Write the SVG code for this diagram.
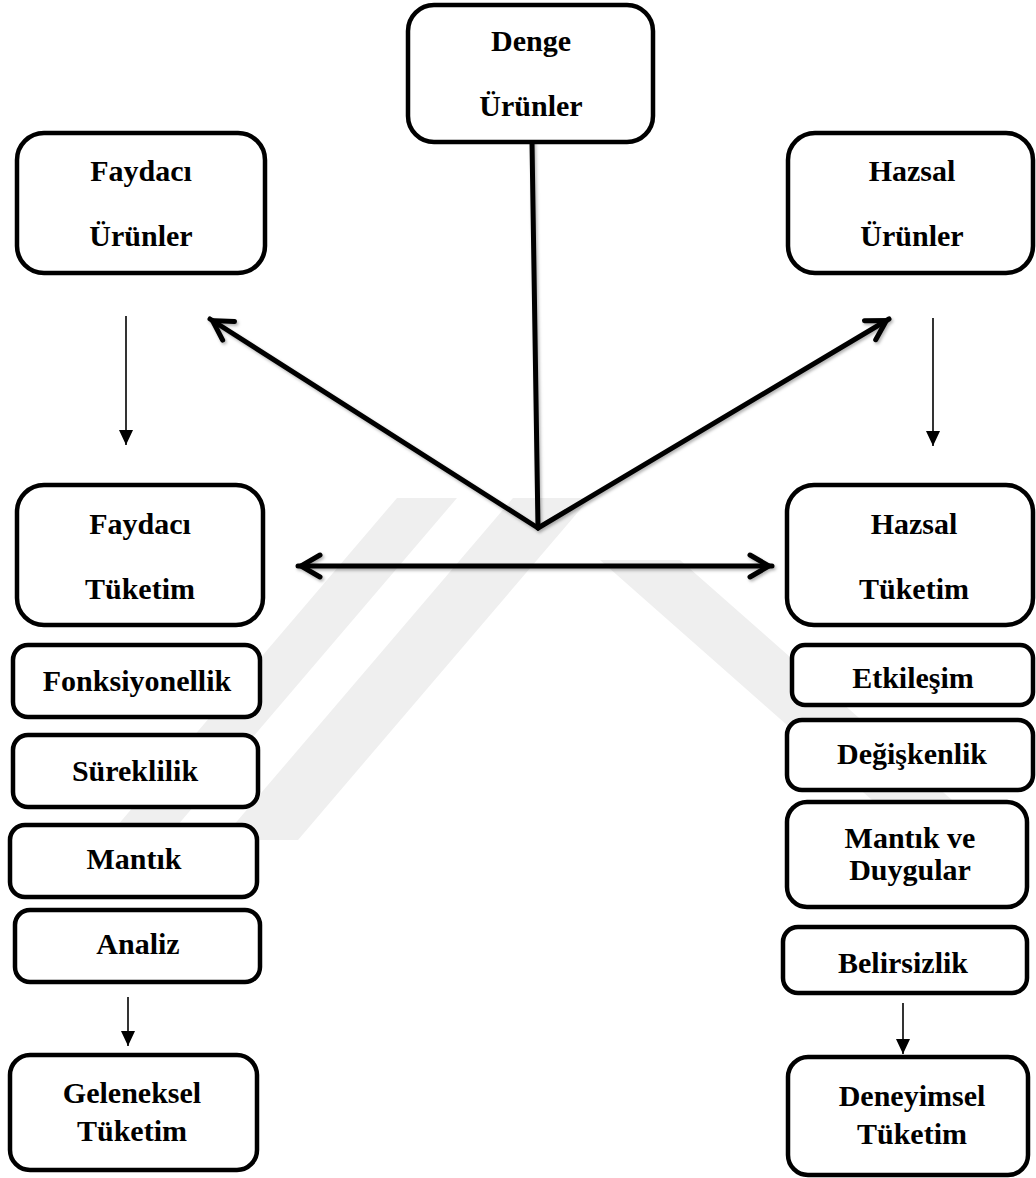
<svg xmlns="http://www.w3.org/2000/svg" width="1036" height="1178" viewBox="0 0 1036 1178">
<defs>
<style>
.box{fill:#fff;stroke:#000;stroke-width:4.5}
.t{font-family:"Liberation Serif","Times New Roman",serif;font-weight:bold;font-size:30px;fill:#000;text-anchor:middle}
.thick{fill:none;stroke:#000;stroke-width:5;stroke-linecap:round}
.thin{fill:none;stroke:#000;stroke-width:1.6}
.wm{fill:#efefef}
</style>
<marker id="open" viewBox="-26 -16 32 32" refX="3" refY="0" markerWidth="32" markerHeight="32" markerUnits="userSpaceOnUse" orient="auto-start-reverse">
<path d="M-19,-11 L0,0 L-19,11" fill="none" stroke="#000" stroke-width="5" stroke-linecap="round" stroke-linejoin="miter"/>
</marker>
<marker id="tri" viewBox="0 0 16 16" refX="15" refY="8" markerWidth="16" markerHeight="16" markerUnits="userSpaceOnUse" orient="auto">
<path d="M0,1 L15,8 L0,15 Z" fill="#000"/>
</marker>
<filter id="sh" x="-10%" y="-10%" width="120%" height="120%">
<feDropShadow dx="1.5" dy="2" stdDeviation="1.5" flood-color="#000" flood-opacity="0.3"/>
</filter>
</defs>
<rect width="1036" height="1178" fill="#fff"/>
<g id="watermark">
<polygon class="wm" points="397,498 457,498 165,840 105,840"/>
<polygon class="wm" points="513,498 590,498 298,840 221,840"/>
<polygon class="wm" points="600,560 680,560 1020,860 940,860"/>
</g>
<g id="connectors">
<line class="thin" x1="126" y1="316" x2="126" y2="445" marker-end="url(#tri)"/>
<line class="thin" x1="933" y1="318" x2="933" y2="446" marker-end="url(#tri)"/>
<line class="thin" x1="128" y1="997" x2="128" y2="1046" marker-end="url(#tri)"/>
<line class="thin" x1="903" y1="1003" x2="903" y2="1054" marker-end="url(#tri)"/>
<g filter="url(#sh)">
<line class="thick" x1="532" y1="142" x2="538" y2="528"/>
<line class="thick" x1="538" y1="528" x2="210" y2="319" marker-end="url(#open)"/>
<line class="thick" x1="538" y1="528" x2="889" y2="319" marker-end="url(#open)"/>
<line class="thick" x1="298" y1="566" x2="772" y2="566" marker-start="url(#open)" marker-end="url(#open)"/>
</g>
</g>
<g id="denge-urunler"><rect class="box" x="408" y="5" width="245" height="137" rx="26"/><text class="t" x="531" y="51">Denge</text><text class="t" x="531" y="116">Ürünler</text></g>
<g id="faydaci-urunler"><rect class="box" x="17" y="133" width="248" height="140" rx="27"/><text class="t" x="141" y="181">Faydacı</text><text class="t" x="141" y="246">Ürünler</text></g>
<g id="hazsal-urunler"><rect class="box" x="788" y="133" width="245" height="140" rx="27"/><text class="t" x="912" y="181">Hazsal</text><text class="t" x="912" y="246">Ürünler</text></g>
<g id="faydaci-tuketim"><rect class="box" x="17" y="485" width="246" height="140" rx="27"/><text class="t" x="140" y="534">Faydacı</text><text class="t" x="140" y="599">Tüketim</text></g>
<g id="hazsal-tuketim"><rect class="box" x="787" y="485" width="246" height="140" rx="27"/><text class="t" x="914" y="534">Hazsal</text><text class="t" x="914" y="599">Tüketim</text></g>
<g id="fonksiyonellik"><rect class="box" x="13" y="645" width="247" height="72" rx="15"/><text class="t" x="137" y="691">Fonksiyonellik</text></g>
<g id="sureklilik"><rect class="box" x="13" y="735" width="245" height="72" rx="15"/><text class="t" x="135" y="781">Süreklilik</text></g>
<g id="mantik"><rect class="box" x="10" y="825" width="247" height="72" rx="15"/><text class="t" x="134" y="869">Mantık</text></g>
<g id="analiz"><rect class="box" x="15" y="910" width="245" height="72" rx="15"/><text class="t" x="138" y="954">Analiz</text></g>
<g id="geleneksel-tuketim"><rect class="box" x="10" y="1055" width="247" height="115" rx="20"/><text class="t" x="132" y="1103">Geleneksel</text><text class="t" x="132" y="1141">Tüketim</text></g>
<g id="etkilesim"><rect class="box" x="792" y="645" width="241" height="60" rx="13"/><text class="t" x="913" y="688">Etkileşim</text></g>
<g id="degiskenlik"><rect class="box" x="787" y="720" width="246" height="70" rx="15"/><text class="t" x="912" y="764">Değişkenlik</text></g>
<g id="mantik-ve-duygular"><rect class="box" x="787" y="802" width="240" height="105" rx="20"/><text class="t" x="910" y="848">Mantık ve</text><text class="t" x="910" y="880">Duygular</text></g>
<g id="belirsizlik"><rect class="box" x="783" y="927" width="244" height="66" rx="15"/><text class="t" x="903" y="973">Belirsizlik</text></g>
<g id="deneyimsel-tuketim"><rect class="box" x="788" y="1057" width="240" height="118" rx="20"/><text class="t" x="912" y="1106">Deneyimsel</text><text class="t" x="912" y="1144">Tüketim</text></g>
</svg>
